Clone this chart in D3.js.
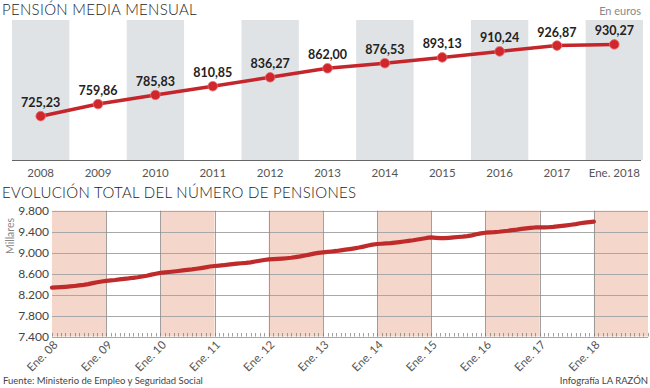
<!DOCTYPE html>
<html>
<head>
<meta charset="utf-8">
<script src="https://cdn.jsdelivr.net/npm/d3@7"></script>
<style>
  body { margin: 0; background: #fff; }
  svg { font-family: Lato, "Open Sans", sans-serif; }
  .title { font-size: 15px; font-weight: 300; fill: #222; letter-spacing: 0.3px; }
  .val { font-size: 12.5px; font-weight: bold; fill: #222; }
  .yr text { font-size: 11.5px; fill: #555; }
  .note { font-size: 9.5px; fill: #444; }
</style>
</head>
<body>
<div id="chart"></div>
<script>
// pensión media mensual (euros)
var years = ['2008','2009','2010','2011','2012','2013','2014','2015','2016','2017','Ene. 2018']
var pension = [725.23, 759.86, 785.83, 810.85, 836.27, 862.00, 876.53, 893.13, 910.24, 926.87, 930.27]

// número de pensiones (miles), mensual desde enero 2008
var pens2008 = [8331, 8336, 8342, 8348, 8355, 8364, 8374, 8386, 8400, 8418, 8435, 8450]
var pens2009 = [8462, 8470, 8478, 8490, 8500, 8508, 8520, 8530, 8545, 8560, 8580, 8598]
var pens2010 = [8615, 8622, 8630, 8640, 8650, 8662, 8672, 8680, 8692, 8705, 8720, 8735]
var pens2011 = [8745, 8752, 8760, 8772, 8780, 8790, 8798, 8805, 8815, 8830, 8846, 8860]
var pens2012 = [8870, 8875, 8880, 8886, 8893, 8902, 8914, 8928, 8945, 8962, 8980, 8995]
var pens2013 = [9006, 9014, 9022, 9032, 9044, 9056, 9068, 9082, 9097, 9115, 9135, 9152]
var pens2014 = [9165, 9170, 9176, 9183, 9192, 9202, 9213, 9224, 9236, 9250, 9265, 9280]
var pens2015 = [9290, 9282, 9276, 9278, 9283, 9290, 9298, 9306, 9316, 9330, 9350, 9368]
var pens2016 = [9380, 9385, 9390, 9398, 9408, 9418, 9430, 9440, 9452, 9462, 9472, 9480]
var pens2017 = [9483, 9482, 9484, 9490, 9500, 9510, 9520, 9532, 9545, 9560, 9572, 9582]
var pens2018 = [9592]

var yTicks = [7400, 7800, 8200, 8600, 9000, 9400, 9800]
var xLabels = ['Ene. 08','Ene. 09','Ene. 10','Ene. 11','Ene. 12','Ene. 13','Ene. 14','Ene. 15','Ene. 16','Ene. 17','Ene. 18']

var monthly = [pens2008, pens2009, pens2010, pens2011, pens2012, pens2013, pens2014, pens2015, pens2016, pens2017, pens2018]
var series = []
monthly.forEach(function(arr, i){
  arr.forEach(function(v, m){ series.push({date: new Date(2008 + i, m, 1), value: v}) })
})

var svg = d3.select('#chart').append('svg').attr('width', 650).attr('height', 388)

// ---- top chart
svg.append('text').attr('class', 'title').attr('x', 2).attr('y', 15).text('PENSIÓN MEDIA MENSUAL')
svg.append('text').attr('x', 641).attr('y', 15).attr('text-anchor', 'end')
  .style('font-size', '11px').style('fill', '#888').text('En euros')

var x = d3.scaleBand().domain(years).range([12, 643]).padding(0)
var y = d3.scaleLinear().domain([600, 1000]).range([160, 20])

svg.append('g').selectAll('rect')
  .data(years.filter(function(d, i){ return i % 2 == 0 }))
  .join('rect')
  .attr('x', function(d){ return x(d) })
  .attr('y', y(1000))
  .attr('width', x.bandwidth())
  .attr('height', y(600) - y(1000))
  .attr('fill', '#dfe3e6')

svg.append('line').attr('x1', 12).attr('x2', 641).attr('y1', 160.5).attr('y2', 160.5)
  .attr('stroke', '#666').attr('stroke-width', 1)

var xAxis = svg.append('g').attr('class', 'yr').attr('transform', 'translate(0,160)')
  .call(d3.axisBottom(x).tickSize(0).tickPadding(9))
xAxis.select('.domain').remove()
xAxis.selectAll('text').style('font-family', 'Lato, sans-serif')

var cx = function(d, i){ return x(years[i]) + x.bandwidth() / 2 }
var line = d3.line().x(cx).y(function(d){ return y(d) })

svg.append('path').attr('d', line(pension))
  .attr('fill', 'none').attr('stroke', '#c4262b').attr('stroke-width', 3.5)

svg.append('g').selectAll('circle').data(pension).join('circle')
  .attr('cx', cx).attr('cy', function(d){ return y(d) })
  .attr('r', 4.8).attr('fill', '#d0272d').attr('stroke', '#e8706f').attr('stroke-width', 0.8)

svg.append('g').selectAll('text').data(pension).join('text')
  .attr('class', 'val')
  .attr('x', cx).attr('y', function(d){ return y(d) - 9 })
  .attr('text-anchor', 'middle')
  .text(function(d){ return d3.format('.2f')(d).replace('.', ',') })

// ---- bottom chart
svg.append('text').attr('class', 'title').attr('x', 2).attr('y', 198)
  .text('EVOLUCIÓN TOTAL DEL NÚMERO DE PENSIONES')

var xt = d3.scaleTime().domain([new Date(2008, 0, 1), new Date(2019, 0, 1)]).range([52, 648])
var yb = d3.scaleLinear().domain([7400, 9800]).range([336.5, 210.7])

var yearStarts = d3.range(2008, 2019).map(function(yr){ return new Date(yr, 0, 1) })

svg.append('g').selectAll('rect')
  .data(yearStarts.filter(function(d, i){ return i % 2 == 0 }))
  .join('rect')
  .attr('x', function(d){ return xt(d) })
  .attr('y', yb(9800))
  .attr('width', function(d){ return xt(d3.timeYear.offset(d, 1)) - xt(d) })
  .attr('height', yb(7400) - yb(9800))
  .attr('fill', '#f5d6ca')

// horizontal grid
svg.append('g').selectAll('line').data(yTicks).join('line')
  .attr('x1', 52).attr('x2', 648)
  .attr('y1', function(d){ return Math.round(yb(d)) + 0.5 })
  .attr('y2', function(d){ return Math.round(yb(d)) + 0.5 })
  .attr('stroke', '#a8a8a8').attr('stroke-width', 1)

// vertical year lines
svg.append('g').selectAll('line').data(yearStarts.slice(1)).join('line')
  .attr('x1', function(d){ return Math.round(xt(d)) + 0.5 })
  .attr('x2', function(d){ return Math.round(xt(d)) + 0.5 })
  .attr('y1', yb(9800)).attr('y2', yb(7400))
  .attr('stroke', '#8a8a8a').attr('stroke-width', 0.8)

// monthly minor ticks
svg.append('g').selectAll('line').data(xt.ticks(d3.timeMonth.every(1))).join('line')
  .attr('x1', function(d){ return Math.round(xt(d)) + 0.5 })
  .attr('x2', function(d){ return Math.round(xt(d)) + 0.5 })
  .attr('y1', yb(7400) - 3.5).attr('y2', yb(7400))
  .attr('stroke', '#777').attr('stroke-width', 0.7)

var yAxis = svg.append('g').attr('transform', 'translate(49,0)')
  .call(d3.axisLeft(yb).tickValues(yTicks).tickSize(0).tickPadding(0)
    .tickFormat(function(d){ return d3.format(',')(d).replace(',', '.') }))
yAxis.select('.domain').remove()
yAxis.selectAll('text').style('font-size', '12px').style('fill', '#444')
  .style('font-family', 'Lato, sans-serif')

svg.append('text').attr('transform', 'translate(14,236) rotate(-90)')
  .attr('text-anchor', 'middle').style('font-size', '10.5px').style('fill', '#888')
  .text('Millares')

var bxAxis = svg.append('g').attr('transform', 'translate(0,336.5)')
  .call(d3.axisBottom(xt).tickValues(yearStarts).tickSize(0)
    .tickFormat(function(d, i){ return xLabels[i] }))
bxAxis.select('.domain').remove()
bxAxis.selectAll('text')
  .style('font-size', '11.5px').style('fill', '#555').style('font-family', 'Lato, sans-serif')
  .attr('text-anchor', 'end')
  .attr('dy', 0).attr('y', 0)
  .attr('transform', 'translate(6,9) rotate(-45)')

var pline = d3.line().x(function(d){ return xt(d.date) }).y(function(d){ return yb(d.value) })
svg.append('path').datum(series).attr('d', pline)
  .attr('fill', 'none').attr('stroke', '#bf2a2b').attr('stroke-width', 4.2)
  .attr('stroke-linecap', 'round').attr('stroke-linejoin', 'round')

// footer
svg.append('text').attr('class', 'note').attr('x', 3).attr('y', 384)
  .text('Fuente: Ministerio de Empleo y Seguridad Social')
svg.append('text').attr('class', 'note').attr('x', 648).attr('y', 384).attr('text-anchor', 'end')
  .text('Infografía LA RAZÓN')
</script>
</body>
</html>
